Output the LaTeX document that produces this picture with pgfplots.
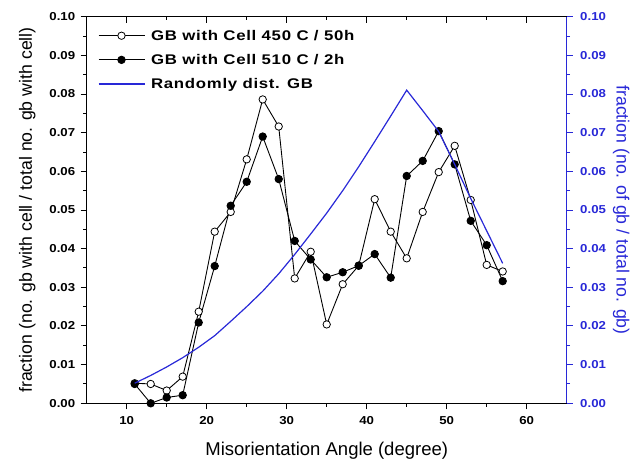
\documentclass[border=0pt]{standalone}
\usepackage{fontspec}
\setmainfont{Liberation Sans}
\newfontfamily\tickfont[FakeStretch=1.15]{Liberation Sans Bold}
\newfontfamily\legfont[FakeStretch=1.2,LetterSpace=5]{Liberation Sans Bold}
\usepackage{pgfplots}
\pgfplotsset{compat=1.18}
\definecolor{myblue}{RGB}{40,40,215}
\pgfplotstableread{
x y
11 0.0052
13 0.0050
15 0.0033
17 0.0069
19 0.0237
21 0.0444
23 0.0495
25 0.0631
27 0.0786
29 0.0716
31 0.0323
33 0.0392
35 0.0204
37 0.0308
39 0.0356
41 0.0528
43 0.0444
45 0.0375
47 0.0495
49 0.0598
51 0.0666
53 0.0526
55 0.0358
57 0.0341
}\openA
\pgfplotstableread{
x y
11 0.0050
13 0.0000
15 0.0015
17 0.0021
19 0.0209
21 0.0355
23 0.0511
25 0.0573
27 0.0690
29 0.0580
31 0.0420
33 0.0372
35 0.0326
37 0.0339
39 0.0356
41 0.0386
43 0.0325
45 0.0588
47 0.0627
49 0.0704
51 0.0618
53 0.0472
55 0.0409
57 0.0316
}\filledB
\pgfplotstableread{
x y
11 0.0052
13 0.0072
15 0.0094
17 0.0118
19 0.0145
21 0.0175
23 0.0212
25 0.0250
27 0.0290
29 0.0335
31 0.0385
33 0.0438
35 0.0492
37 0.0550
39 0.0612
41 0.0677
43 0.0743
45 0.0810
47 0.0757
49 0.0703
51 0.0618
53 0.0530
55 0.0446
57 0.0362
}\randomC
\begin{document}
\begin{tikzpicture}
\pgfplotsset{
  common/.style={
    scale only axis, width=480pt, height=386.6pt,
    xmin=5, xmax=65, ymin=0, ymax=0.1,
    xtick={10,20,30,40,50,60}, minor x tick num=1,
    ytick={0,0.01,0.02,0.03,0.04,0.05,0.06,0.07,0.08,0.09,0.1}, minor y tick num=1,
    scaled y ticks=false,
    /pgf/number format/assume math mode=true,
    yticklabel style={/pgf/number format/fixed,/pgf/number format/fixed zerofill,/pgf/number format/precision=2},
    tick label style={font=\tickfont\fontsize{11.5}{13}\selectfont},
    major tick length=6pt, minor tick length=3.5pt,
    axis line style={line width=1.2pt},
    every tick/.style={line width=1pt},
    xlabel style={font=\fontsize{18.5}{21}\selectfont},
    ylabel style={font=\fontsize{17.7}{20}\selectfont},
  }
}
\begin{axis}[common, name=ax,
  axis x line*=bottom, axis y line*=left,
  tick align=outside,
  xticklabel style={yshift=-4pt},
  yticklabel style={xshift=-2pt},
  xlabel={Misorientation Angle (degree)},
  ylabel={fraction (no. gb with cell / total no. gb with cell)},
  xlabel shift=10pt, ylabel shift=7pt,
  legend cell align=left,
  legend style={draw=none, fill=none, at={(0,1)}, anchor=north west, xshift=8pt, yshift=-9pt,
    font=\legfont\fontsize{14}{15}\selectfont, row sep=8.5pt,
    nodes={inner xsep=6pt}},
  legend image code/.code={\draw[mark repeat=2,mark phase=2,#1] plot coordinates {(0pt,0pt) (23pt,0pt) (46pt,0pt)};},
]
\addplot[black, line width=0.9pt, mark=*, mark size=3.7pt, mark options={fill=white, draw=black, line width=0.8pt}] table[x=x,y=y] {\openA};
\addlegendentry{GB with Cell 450 C / 50h}
\addplot[black, line width=0.9pt, mark=*, mark size=3.7pt, mark options={fill=black, draw=black}] table[x=x,y=y] {\filledB};
\addlegendentry{GB with Cell 510 C / 2h}
\addlegendimage{myblue, line width=1.2pt}
\addlegendentry{Randomly dist. GB}
\end{axis}
\begin{axis}[common, at={(ax.south west)}, anchor=south west,
  axis x line*=top, axis y line*=right,
  xticklabels={},
  xtick align=inside, ytick align=outside,
  x axis line style={black},
  y axis line style={myblue},
  x tick style={black},
  y tick style={myblue},
  yticklabel style={myblue, xshift=4pt},
  ylabel style={myblue, rotate=180},
  ylabel shift=0pt,
  ylabel={fraction (no. of gb / total no. gb)},
]
\addplot[myblue, line width=1.2pt, no marks] table[x=x,y=y] {\randomC};
\end{axis}
\pgfresetboundingbox
\path[use as bounding box] ([shift={(-86.7pt,-54.7pt)}]ax.south west) rectangle ([shift={(68.3pt,16.7pt)}]ax.north east);
\end{tikzpicture}
\end{document}
